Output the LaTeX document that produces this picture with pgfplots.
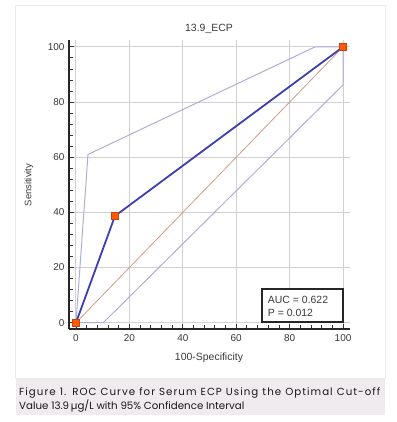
\documentclass[border=0pt]{standalone}
\usepackage{fontspec}
\setmainfont{Liberation Sans}
\newfontfamily\capfont{Poppins}
\newfontfamily\capfontls[LetterSpace=10]{Poppins}
\usepackage{pgfplots}
\pgfplotsset{compat=1.18}
\definecolor{roc}{HTML}{3B3FB0}
\definecolor{ci}{HTML}{AEAEDC}
\definecolor{diag}{HTML}{D49A8A}
\definecolor{gridc}{HTML}{D0D0D0}
\definecolor{txt}{HTML}{3A3A3A}
\definecolor{capbg}{HTML}{EFEBEF}
\definecolor{mk}{HTML}{FF5A00}
\definecolor{mkd}{HTML}{C84010}
\begin{document}
\begin{tikzpicture}[x=1bp,y=1bp]
\useasboundingbox (0,0) rectangle (397,422);
\fill[white] (0,0) rectangle (397,422);
\draw[black!8, line width=0.8bp] (15,44) rectangle (385,417);
\fill[capbg] (16,7) rectangle (385,43);
\node[anchor=base west, inner sep=0, text=black!90, font=\capfontls\fontsize{10.3}{12}\selectfont] at (19,27) {\makebox[361bp][s]{Figure 1. ROC Curve for Serum ECP Using the Optimal Cut-off}};
\node[anchor=base west, inner sep=0, text=black!90, font=\capfont\fontsize{10.3}{12}\selectfont] at (19,13) {Value 13.9\,µg/L with 95\% Confidence Interval};
\begin{axis}[
  at={(69bp,93bp)}, anchor=south west,
  scale only axis, width=281bp, height=289bp,
  xmin=-2.62, xmax=102.6, ymin=-2.28, ymax=102.5,
  axis lines*=left,
  axis line style={line width=1.8bp, black!85},
  xtick={0,20,...,100}, ytick={0,20,...,100},
  minor tick num=4,
  tick align=inside,
  major tick length=5bp, minor tick length=4bp,
  tick style={black!80, line width=0.9bp},
  grid=major,
  major grid style={gridc, line width=1bp},
  /pgf/number format/assume math mode=true,
  ticklabel style={font=\fontsize{10}{12}\selectfont, text=txt},
  yticklabel style={xshift=-1bp},
  xticklabel style={yshift=-2bp},
  clip=false,
]
\addplot[diag, line width=0.8bp] coordinates {(0,0) (100,100)};
\addplot[ci, line width=1bp] coordinates {(0,0) (4.5,61) (89.5,100) (100,100)};
\addplot[ci, line width=1bp] coordinates {(0,0) (10.2,0) (100,86.2) (100,100)};
\addplot[roc, line width=1.8bp, mark=square*, mark size=3.3bp, mark options={fill=mk, draw=mkd, line width=0.6bp}] coordinates {(0,0) (14.6,38.7) (100,100)};
\draw[black!85, line width=1.3bp, fill=white] (axis cs:69.7,0.3) rectangle (axis cs:100,12.2);
\node[anchor=west, inner sep=0, text=txt, font=\fontsize{10.5}{12}\selectfont] at (axis cs:71.8,8.2) {AUC = 0.622};
\node[anchor=west, inner sep=0, text=txt, font=\fontsize{10.5}{12}\selectfont] at (axis cs:71.8,3.5) {P = 0.012};
\end{axis}
\node[text=txt, font=\fontsize{10.5}{12}\selectfont] at (209,393.5) {13.9\_ECP};
\node[text=txt, font=\fontsize{9.5}{12}\selectfont, rotate=90] at (29,237) {Sensitivity};
\node[text=txt, font=\fontsize{10.5}{12}\selectfont] at (209,64) {100-Specificity};
\end{tikzpicture}
\end{document}
